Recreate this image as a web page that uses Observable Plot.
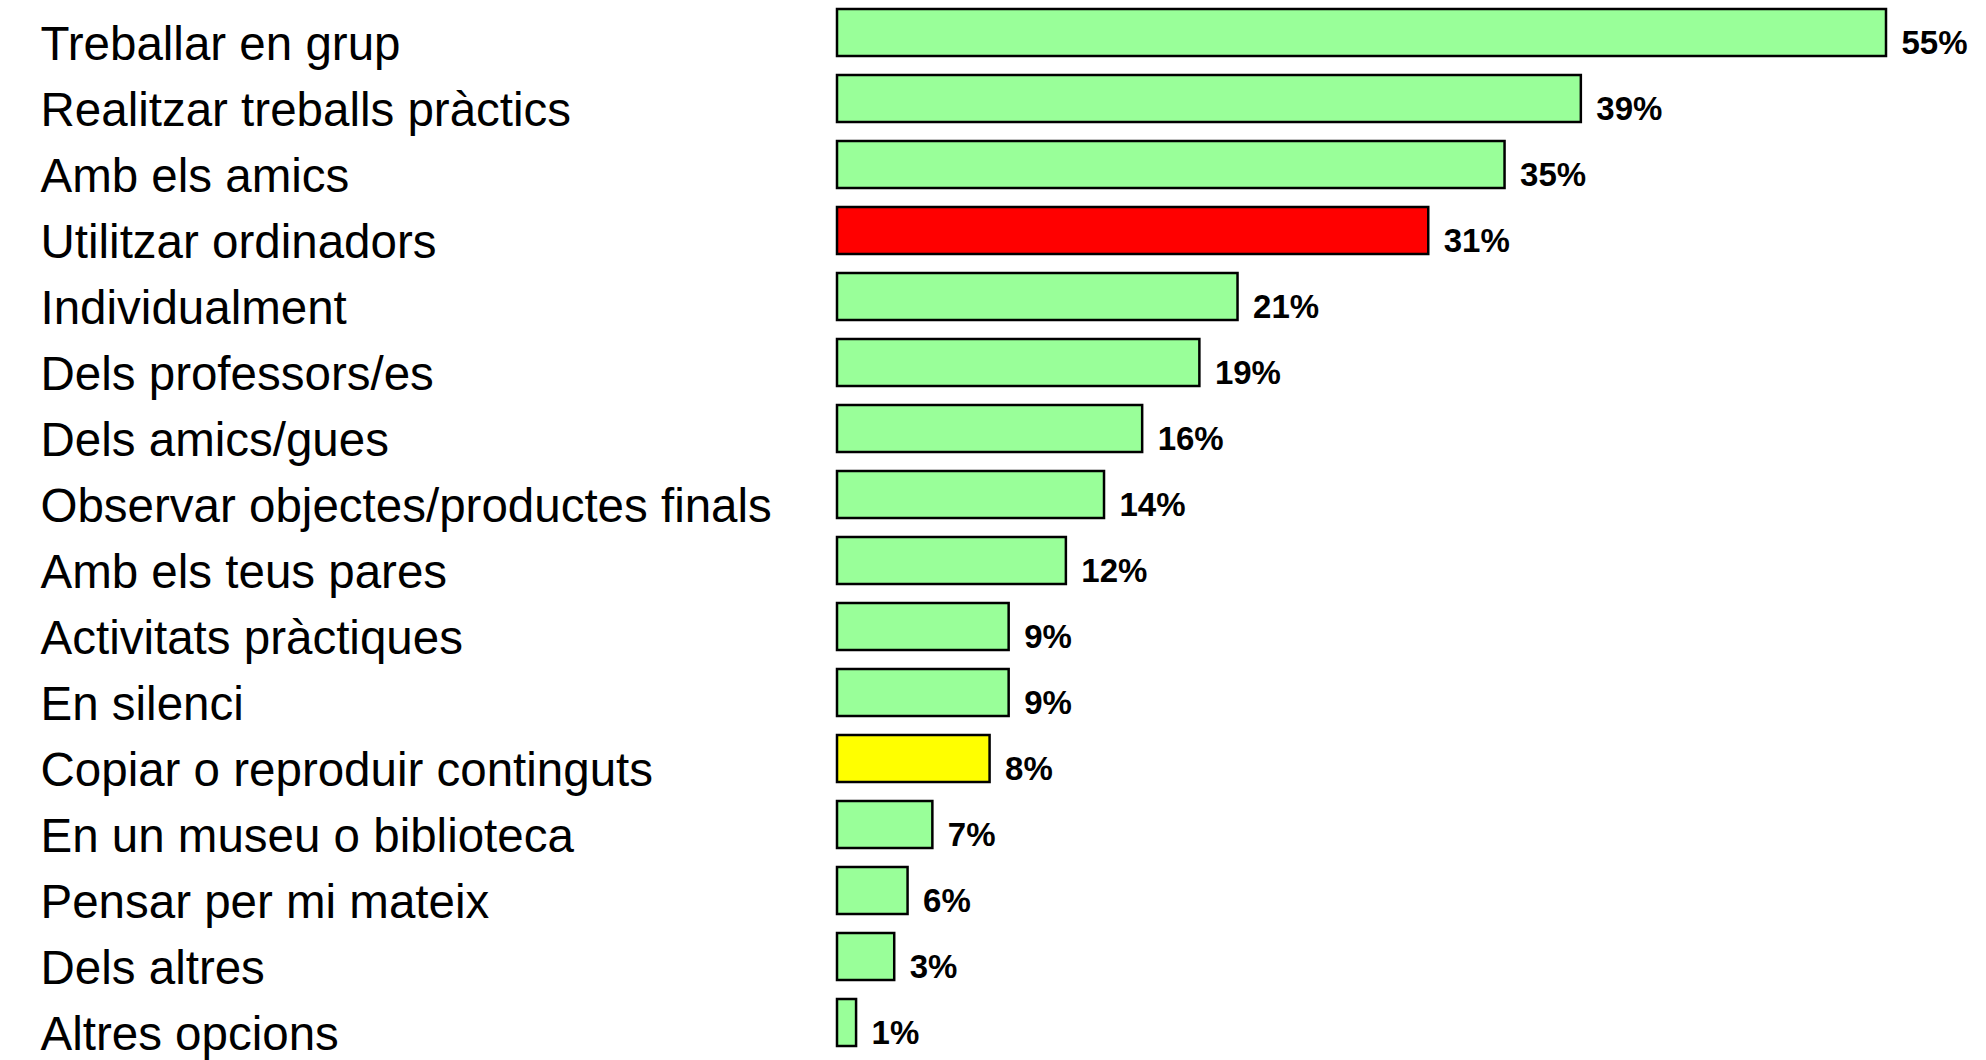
<!DOCTYPE html>
<html>
<head>
<meta charset="utf-8">
<script src="https://cdn.jsdelivr.net/npm/d3@7"></script>
<script src="https://cdn.jsdelivr.net/npm/@observablehq/plot@0.6"></script>
<style>
  html, body { margin: 0; padding: 0; background: #fff; }
  #chart svg { display: block; }
</style>
</head>
<body>
<div id="chart"></div>
<script>
const categories = [
  "Treballar en grup",
  "Realitzar treballs pràctics",
  "Amb els amics",
  "Utilitzar ordinadors",
  "Individualment",
  "Dels professors/es",
  "Dels amics/gues",
  "Observar objectes/productes finals",
  "Amb els teus pares",
  "Activitats pràctiques",
  "En silenci",
  "Copiar o reproduir continguts",
  "En un museu o biblioteca",
  "Pensar per mi mateix",
  "Dels altres",
  "Altres opcions"
];
// bar lengths as drawn in the picture (percent)
const barLengths = [55, 39, 35, 31, 21, 19, 16, 14, 12, 9, 9, 8, 5, 3.7, 3, 1];
// value labels as printed
const valueLabels = ["55%", "39%", "35%", "31%", "21%", "19%", "16%", "14%", "12%", "9%", "9%", "8%", "7%", "6%", "3%", "1%"];
const highlightRed = ["Utilitzar ordinadors"];
const highlightYellow = ["Copiar o reproduir continguts"];

const rows = categories.map((c, i) => ({
  category: c,
  length: barLengths[i],
  label: valueLabels[i],
  kind: highlightRed.includes(c) ? "red" : highlightYellow.includes(c) ? "yellow" : "normal"
}));

const fillFor = {red: "#ff0000", yellow: "#ffff00", normal: "#99ff99"};
const leftMargin = 837;

const chart = Plot.plot({
  width: 1986,
  height: 1060,
  marginLeft: leftMargin,
  marginRight: 100,
  marginTop: 0,
  marginBottom: 5,
  style: {fontFamily: "'Liberation Sans', Arial, sans-serif", background: "#fff"},
  x: {domain: [0, 55], axis: null},
  y: {domain: categories, axis: null, paddingInner: 0.29, paddingOuter: 0.13},
  marks: [
    Plot.barX(rows, {
      x: "length",
      y: "category",
      fill: d => fillFor[d.kind],
      stroke: "#000",
      strokeWidth: 2.5
    }),
    Plot.text(rows, {
      x: "length",
      y: "category",
      text: "label",
      textAnchor: "start",
      dx: 15,
      dy: 10,
      fontSize: 33,
      fontWeight: "bold",
      fill: "#000"
    }),
    Plot.text(rows, {
      y: "category",
      frameAnchor: "left",
      text: "category",
      textAnchor: "start",
      dx: 40 - leftMargin,
      dy: 12,
      fontSize: 47.5,
      fill: "#000"
    })
  ]
});
document.getElementById("chart").appendChild(chart);
</script>
</body>
</html>
